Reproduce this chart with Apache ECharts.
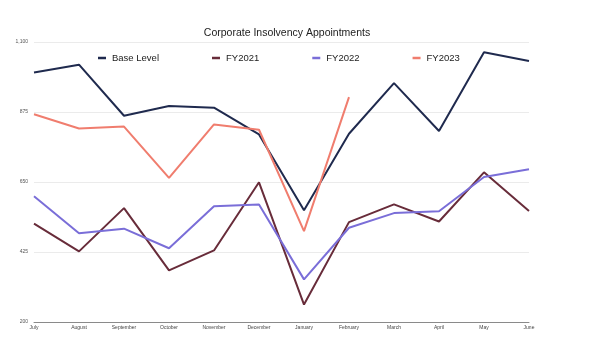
<!DOCTYPE html>
<html>
<head>
<meta charset="utf-8">
<script src="https://cdn.jsdelivr.net/npm/echarts@6/dist/echarts.min.js"></script>
<style>
  html, body { margin: 0; padding: 0; background: #fff; }
  #chart { width: 599px; height: 337px; }
</style>
</head>
<body>
<div id="chart"></div>
<script>
// Months of the financial year, July to June
const months = ['July', 'August', 'September', 'October', 'November', 'December',
                'January', 'February', 'March', 'April', 'May', 'June'];

// Monthly appointment counts
const baseLevel = [1002, 1027, 863, 894, 889, 803, 559, 805, 968, 814, 1067, 1039];
const fy2021    = [516, 427, 566, 366, 430, 649, 256, 521, 578, 523, 681, 557];
const fy2022    = [604, 485, 500, 437, 572, 578, 337, 503, 550, 556, 666, 691];
const fy2023    = [868, 822, 828, 663, 835, 818, 492, 923];

// Value axis ticks
const yMin = 200, yMax = 1100, yStep = 225;

const colors = {
  base: '#1f2a4e',
  fy21: '#682c3a',
  fy22: '#7a6ed8',
  fy23: '#f07d6e'
};

// Thousands separator, e.g. 1100 -> "1,100"
const withCommas = v => String(v).replace(/\B(?=(\d{3})+(?!\d))/g, ',');

const lineSeries = (name, data, color) => ({
  name: name,
  type: 'line',
  data: data,
  showSymbol: false,
  symbol: 'none',
  lineStyle: { width: 2, color: color },
  itemStyle: { color: color },
  emphasis: { disabled: true }
});

const chart = echarts.init(document.getElementById('chart'), null, { renderer: 'canvas' });
chart.setOption({
  animation: false,
  backgroundColor: '#ffffff',
  title: {
    text: 'Corporate Insolvency Appointments',
    left: 282,
    top: 23,
    textAlign: 'center',
    textStyle: {
      fontFamily: 'Liberation Sans, Arial, sans-serif',
      fontSize: 10.5,
      fontWeight: 'normal',
      color: '#222'
    }
  },
  legend: {
    left: 93,
    top: 48,
    itemWidth: 8,
    itemHeight: 2.5,
    itemGap: 53,
    icon: 'rect',
    textStyle: {
      fontFamily: 'Liberation Sans, Arial, sans-serif',
      fontSize: 9.5,
      color: '#222',
      padding: [0, 0, 0, 1]
    },
    data: ['Base Level', 'FY2021', 'FY2022', 'FY2023']
  },
  grid: {
    left: 34,
    right: 70,
    top: 42,
    bottom: 15,
    containLabel: false
  },
  xAxis: {
    type: 'category',
    boundaryGap: false,
    data: months,
    axisLine: { lineStyle: { color: '#8a8a8a', width: 1 } },
    axisTick: { show: false },
    axisLabel: {
      interval: 0,
      fontFamily: 'Liberation Sans, Arial, sans-serif',
      fontSize: 5,
      color: '#444',
      margin: 3
    },
    splitLine: { show: false }
  },
  yAxis: {
    type: 'value',
    min: yMin,
    max: yMax,
    interval: yStep,
    axisLine: { show: false },
    axisTick: { show: false },
    axisLabel: {
      fontFamily: 'Liberation Sans, Arial, sans-serif',
      fontSize: 5,
      color: '#555',
      margin: 6,
      formatter: withCommas
    },
    splitLine: { lineStyle: { color: '#ebebeb', width: 1 } }
  },
  series: [
    lineSeries('Base Level', baseLevel, colors.base),
    lineSeries('FY2021', fy2021, colors.fy21),
    lineSeries('FY2022', fy2022, colors.fy22),
    lineSeries('FY2023', fy2023, colors.fy23)
  ]
});
</script>
</body>
</html>
